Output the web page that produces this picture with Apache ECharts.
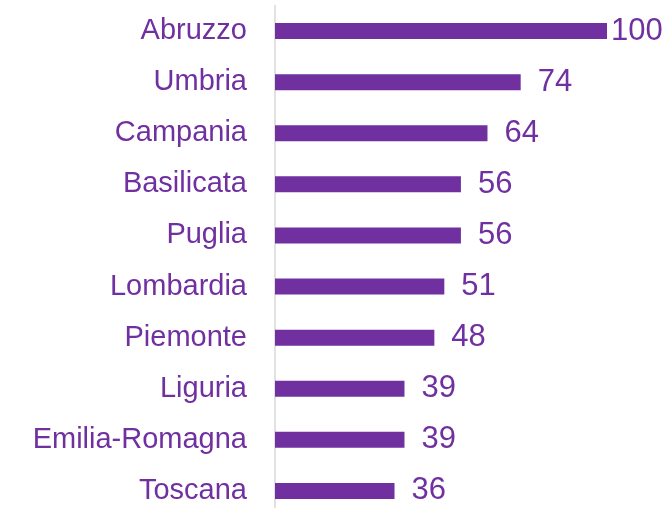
<!DOCTYPE html>
<html>
<head>
<meta charset="utf-8">
<script src="https://cdn.jsdelivr.net/npm/echarts@6/dist/echarts.min.js"></script>
<style>
  html, body { margin: 0; padding: 0; background: #fff; }
  #chart { width: 669px; height: 508px; }
</style>
</head>
<body>
<div id="chart"></div>
<script>
// regioni, dall'alto in basso
var regions = ['Abruzzo', 'Umbria', 'Campania', 'Basilicata', 'Puglia', 'Lombardia', 'Piemonte', 'Liguria', 'Emilia-Romagna', 'Toscana'];
var values = [100, 74, 64, 56, 56, 51, 48, 39, 39, 36];

var purple = '#7030A0';

var chart = echarts.init(document.getElementById('chart'), null, { renderer: 'canvas' });

// il 100 sta attaccato alla barra, gli altri un po' staccati
var barData = values.map(function (v) {
  return v === 100 ? { value: v, label: { distance: 4 } } : v;
});

chart.setOption({
  animation: false,
  grid: { left: 275, right: 62, top: 5.5, height: 511, outerBoundsMode: 'none', containLabel: false },
  xAxis: {
    type: 'value',
    min: 0,
    max: 100,
    show: false
  },
  yAxis: {
    type: 'category',
    data: regions,
    inverse: true,
    axisLine: { show: true, lineStyle: { color: '#D9D9D9', width: 1.5 } },
    axisTick: { show: false },
    axisLabel: {
      color: purple,
      fontFamily: 'Liberation Sans',
      fontSize: 29,
      margin: 28
    }
  },
  series: [{
    type: 'bar',
    data: barData,
    barWidth: 16,
    itemStyle: { color: purple },
    label: {
      show: true,
      position: 'right',
      distance: 17,
      color: purple,
      fontFamily: 'Liberation Sans',
      fontSize: 31
    }
  }]
});
</script>
</body>
</html>
